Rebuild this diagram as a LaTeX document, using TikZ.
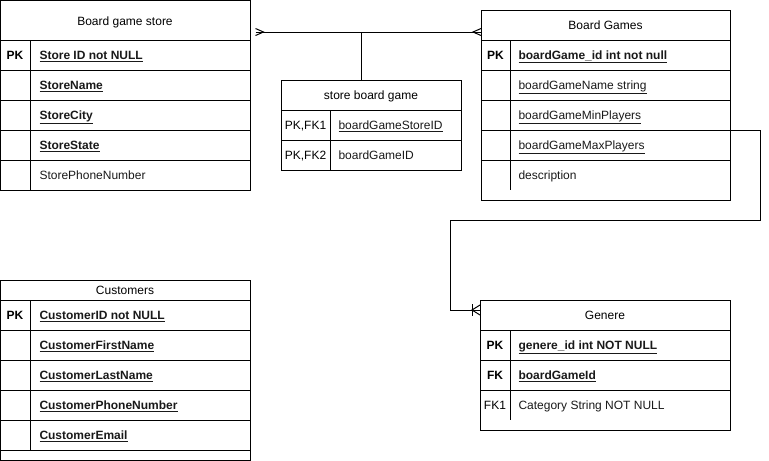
\documentclass[tikz,border=0pt]{standalone}
\usepackage{fontspec}
\setmainfont{Liberation Sans}
\usetikzlibrary{calc}
\newcommand\myul[1]{\underline{#1}}
\begin{document}
\begin{tikzpicture}[x=0.75pt,y=-0.75pt,line width=0.75pt,
  box/.style={draw,anchor=north west,inner sep=0pt,outer sep=0pt},
  hdr/.style={font=\fontsize{9}{11}\selectfont,anchor=base,inner sep=0pt,text=black},
  fld/.style={font=\fontsize{9}{11}\selectfont,anchor=base west,inner sep=0pt,text=black!90},
  bfld/.style={fld,font=\fontsize{9}{11}\selectfont\bfseries},
  key/.style={font=\fontsize{9}{11}\selectfont\bfseries,anchor=base,inner sep=0pt,text=black},
  nkey/.style={key,font=\fontsize{9}{11}\selectfont},
  sep/.style={line width=0.75pt},
  conn/.style={line width=0.75pt}]
\useasboundingbox (0,0) rectangle (769,461);

% ---------- Board game store ----------
\node[box,minimum width={250*0.75pt},minimum height={190*0.75pt}] (store) at (0.5,0.5) {};
\draw[sep] (0.5,40) -- (250.5,40) (0.5,70) -- (250.5,70) (0.5,100) -- (250.5,100)
  (0.5,130) -- (250.5,130) (0.5,160) -- (250.5,160) (30,40) -- (30,190.5);
\node[hdr] (storeh) at (125,25) {Board game store};
\node[key] (storek1) at (15,59) {PK};
\node[bfld] (storef1) at (39,59) {\myul{Store ID not NULL}};
\node[bfld] (storef2) at (39,89) {\myul{StoreName}};
\node[bfld] (storef3) at (39,119) {\myul{StoreCity}};
\node[bfld] (storef4) at (39,149) {\myul{StoreState}};
\node[fld] (storef5) at (39,179) {StorePhoneNumber};

% ---------- store board game ----------
\node[box,minimum width={180*0.75pt},minimum height={90*0.75pt}] (sbg) at (281,80) {};
\draw[sep] (281,110) -- (461,110) (281,140) -- (461,140) (330,110) -- (330,170);
\node[hdr] (sbgh) at (371,99) {store board game};
\node[nkey] (sbgk1) at (305.5,129) {PK,FK1};
\node[nkey] (sbgk2) at (305.5,159) {PK,FK2};
\node[fld] (sbgf1) at (338,129) {\myul{boardGameStoreID}};
\node[fld] (sbgf2) at (338,159) {boardGameID};

% ---------- Board Games ----------
\node[box,minimum width={249*0.75pt},minimum height={190*0.75pt}] (bg) at (481,10) {};
\draw[sep] (481,40) -- (730,40) (481,70) -- (730,70) (481,100) -- (730,100)
  (481,130) -- (730,130) (481,160) -- (730,160) (510,40) -- (510,190);
\node[hdr] (bgh) at (605.5,29) {Board Games};
\node[key] (bgk1) at (495.5,59) {PK};
\node[bfld] (bgf1) at (518,59) {\myul{boardGame\_id int not null}};
\node[fld] (bgf2) at (518,89) {\myul{boardGameName string}};
\node[fld] (bgf3) at (518,119) {\myul{boardGameMinPlayers}};
\node[fld] (bgf4) at (518,149) {\myul{boardGameMaxPlayers}};
\node[fld] (bgf5) at (518,179) {description};

% ---------- Genere ----------
\node[box,minimum width={250*0.75pt},minimum height={130*0.75pt}] (gen) at (480,300) {};
\draw[sep] (480,330) -- (730,330) (480,360) -- (730,360) (480,390) -- (730,390) (510,330) -- (510,420);
\node[hdr] (genh) at (605,319) {Genere};
\node[key] (genk1) at (495,349) {PK};
\node[key] (genk2) at (495,379) {FK};
\node[nkey] (genk3) at (495,409) {FK1};
\node[bfld] (genf1) at (518,349) {\myul{genere\_id int NOT NULL}};
\node[bfld] (genf2) at (518,379) {\myul{boardGameId}};
\node[fld] (genf3) at (518,409) {Category String NOT NULL};

% ---------- Customers ----------
\node[box,minimum width={250*0.75pt},minimum height={180*0.75pt}] (cust) at (0.5,280) {};
\draw[sep] (0.5,300) -- (250.5,300) (0.5,330) -- (250.5,330) (0.5,360) -- (250.5,360)
  (0.5,390) -- (250.5,390) (0.5,420) -- (250.5,420) (0.5,450) -- (250.5,450) (30,300) -- (30,450);
\node[hdr] (custh) at (125,294) {Customers};
\node[key] (custk1) at (15,319) {PK};
\node[bfld] (custf1) at (39,319) {\myul{CustomerID not NULL}};
\node[bfld] (custf2) at (39,349) {\myul{CustomerFirstName}};
\node[bfld] (custf3) at (39,379) {\myul{CustomerLastName}};
\node[bfld] (custf4) at (39,409) {\myul{CustomerPhoneNumber}};
\node[bfld] (custf5) at (39,439) {\myul{CustomerEmail}};

% ---------- connectors ----------
\coordinate (ja) at ($(store.north east)+(5,31.5)$);
\coordinate (jb) at ($(bg.north west)+(0,22)$);
\coordinate (jm) at (361,32);
\draw[conn] (ja) -- (jb);
\draw[conn] ($(ja)+(0,-3.5)$) -- ($(ja)+(8,0)$) -- ($(ja)+(0,3.5)$);
\draw[conn] ($(jb)+(0,-3.5)$) -- ($(jb)+(-8,0)$) -- ($(jb)+(0,3.5)$);
\draw[conn] (jm) -- (jm |- sbg.north);

\coordinate (ga) at ($(bg.north east)+(0,120)$);
\coordinate (gb) at ($(gen.north west)+(0,10)$);
\draw[conn] (ga) -- ++(30,0) -- ++(0,90) -| (450,310) -- (gb);
\draw[conn] ($(gb)+(0,-5)$) -- ($(gb)+(-8,0)$) -- ($(gb)+(0,5)$);
\draw[conn] ($(gb)+(-8,-6)$) -- ($(gb)+(-8,6)$);
\end{tikzpicture}
\end{document}
